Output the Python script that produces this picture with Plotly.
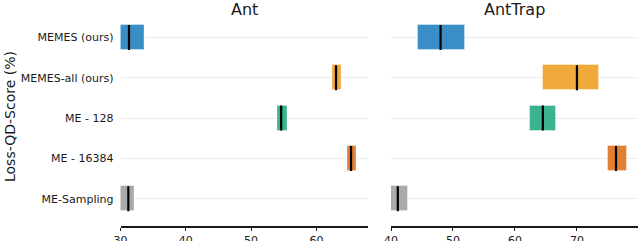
import plotly.graph_objects as go

methods = ["MEMES (ours)", "MEMES-all (ours)", "ME - 128", "ME - 16384", "ME-Sampling"]
colors = ["#3a8ec6", "#f0a93b", "#3bb38f", "#e27f35", "#aaaaaa"]

# Ant: q1, median, q3
ant_q1 = [30.0, 62.4, 54.1, 64.8, 30.0]
ant_med = [31.3, 63.0, 54.6, 65.3, 31.2]
ant_q3 = [33.6, 63.8, 55.5, 66.1, 32.1]

# AntTrap
trap_q1 = [44.3, 64.5, 62.4, 75.0, 40.0]
trap_med = [48.0, 70.0, 64.5, 76.3, 41.1]
trap_q3 = [52.0, 73.6, 66.7, 78.0, 42.8]

W, H = 640, 241
BW = 0.62

fig = go.Figure()
ypos = list(range(len(methods)))

def add_panel(q1, med, q3, xa, ya):
    fig.add_trace(go.Bar(
        orientation="h", y=ypos, x=[b - a for a, b in zip(q1, q3)], base=q1,
        width=BW, marker=dict(color=colors, line=dict(color="rgba(255,255,255,0.35)", width=1)),
        xaxis=xa, yaxis=ya, showlegend=False, hoverinfo="skip"))
    for i, m in enumerate(med):
        fig.add_trace(go.Scatter(
            x=[m, m], y=[i - BW / 2, i + BW / 2], mode="lines",
            line=dict(color="black", width=2.2), xaxis=xa, yaxis=ya,
            showlegend=False, hoverinfo="skip"))

add_panel(ant_q1, ant_med, ant_q3, "x", "y")
add_panel(trap_q1, trap_med, trap_q3, "x2", "y2")

yrange = [4.677, -0.930]
font = dict(family="DejaVu Sans", size=11, color="#1a1a1a")
xcommon = dict(showgrid=False, zeroline=False, showline=True, linecolor="#1a1a1a",
               linewidth=1.5, ticks="outside", ticklen=3, tickcolor="#1a1a1a",
               tickwidth=1.2, dtick=10, tickfont=font, automargin=False)
ycommon = dict(range=yrange, tickvals=ypos, showgrid=True, gridcolor="#ececec",
               gridwidth=1, zeroline=False, showline=False, ticks="", automargin=False)

ydom = [15 / H, 1]
fig.update_layout(
    width=W, height=H, margin=dict(l=0, r=0, t=0, b=0),
    plot_bgcolor="white", paper_bgcolor="white", bargap=0,
    xaxis=dict(domain=[120.5 / W, 367.7 / W], range=[30, 67.85], anchor="y", **xcommon),
    xaxis2=dict(domain=[391 / W, 638.3 / W], range=[40, 79.9], anchor="y2", **xcommon),
    yaxis=dict(domain=ydom, anchor="x", ticktext=methods, tickfont=font,
               ticklabelstandoff=6, **ycommon),
    yaxis2=dict(domain=ydom, anchor="x2", showticklabels=False, **ycommon),
    annotations=[
        dict(text="Ant", x=(120.5 + 367.7) / 2 / W, y=1 - 10 / H, xref="paper", yref="paper",
             showarrow=False, font=dict(family="DejaVu Sans", size=16, color="#1a1a1a"),
             xanchor="center", yanchor="middle"),
        dict(text="AntTrap", x=(391 + 638.3) / 2 / W, y=1 - 10 / H, xref="paper", yref="paper",
             showarrow=False, font=dict(family="DejaVu Sans", size=16, color="#1a1a1a"),
             xanchor="center", yanchor="middle"),
        dict(text="Loss-QD-Score (%)", x=10 / W, y=1 - 117 / H, xref="paper", yref="paper",
             showarrow=False, textangle=-90,
             font=dict(family="DejaVu Sans", size=14, color="#1a1a1a"),
             xanchor="center", yanchor="middle"),
    ],
)

fig.write_html("out.html", config={"displayModeBar": False},
               post_script="document.body.style.margin='0';document.body.style.padding='0';")
